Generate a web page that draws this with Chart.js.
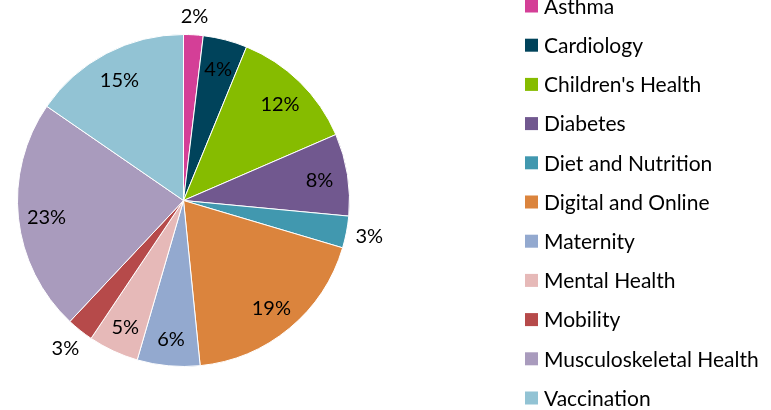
<!DOCTYPE html>
<html>
<head>
<meta charset="utf-8">
<script src="https://cdn.jsdelivr.net/npm/chart.js@4.4.1/dist/chart.umd.min.js"></script>
<style>
  html, body { margin: 0; padding: 0; background: #ffffff; }
  #wrap { position: relative; width: 771px; height: 410px; }
</style>
</head>
<body>
<div id="wrap"><canvas id="c" width="771" height="410"></canvas></div>
<script>
const categories = ["Asthma", "Cardiology", "Children's Health", "Diabetes", "Diet and Nutrition",
  "Digital and Online", "Maternity", "Mental Health", "Mobility", "Musculoskeletal Health", "Vaccination"];
const shares = [1.9, 4.3, 12.3, 8.0, 3.1, 18.8, 6.1, 4.9, 2.6, 22.6, 15.4];
const colors = ["#D43F97", "#00435B", "#86BC00", "#71588F", "#4198AF", "#DB843D",
  "#93A9CF", "#E6B9B8", "#B64A4A", "#A99BBD", "#92C3D4"];

const FONT = "Lato, 'Open Sans', sans-serif";

const labelPlugin = {
  id: 'sliceLabels',
  afterDatasetsDraw(chart) {
    const ctx = chart.ctx;
    const meta = chart.getDatasetMeta(0);
    const data = chart.data.datasets[0].data;
    const total = data.reduce((a, b) => a + b, 0);
    ctx.save();
    ctx.font = "20px " + FONT;
    ctx.fillStyle = "#000000";
    ctx.textAlign = "center";
    ctx.textBaseline = "middle";
    meta.data.forEach((arc, i) => {
      const pct = data[i] / total * 100;
      const txt = Math.round(pct) + "%";
      const mid = (arc.startAngle + arc.endAngle) / 2;
      const R = arc.outerRadius;
      const cx = Math.cos(mid), sy = Math.sin(mid);
      let r, dy;
      if (pct < 3.5) {
        const w = ctx.measureText(txt).width;
        r = R + 8 + Math.abs(cx) * w / 2 + Math.abs(sy) * 9;
        dy = 0;
      } else {
        r = R * 0.83;
        dy = 2;
      }
      ctx.fillText(txt, arc.x + cx * r, arc.y + sy * r + dy);
    });
    ctx.restore();
  }
};

const legendPlugin = {
  id: 'sideLegend',
  afterDraw(chart) {
    const ctx = chart.ctx;
    const ds = chart.data.datasets[0];
    ctx.save();
    ctx.font = "21px " + FONT;
    ctx.textAlign = "left";
    ctx.textBaseline = "middle";
    chart.data.labels.forEach((lab, i) => {
      const y = 6 + i * 39.2;
      ctx.fillStyle = ds.backgroundColor[i];
      ctx.fillRect(525, y - 6.5, 13, 13);
      ctx.fillStyle = "#000000";
      ctx.fillText(lab, 544, y + 1);
    });
    ctx.restore();
  }
};

new Chart(document.getElementById('c'), {
  type: 'pie',
  data: {
    labels: categories,
    datasets: [{
      data: shares,
      backgroundColor: colors,
      borderColor: "#ffffff",
      borderWidth: 1
    }]
  },
  options: {
    responsive: false,
    animation: false,
    layout: { padding: { left: 17, top: 34, right: 421, bottom: 43 } },
    plugins: {
      legend: { display: false },
      tooltip: { enabled: false }
    }
  },
  plugins: [labelPlugin, legendPlugin]
});
</script>
</body>
</html>
